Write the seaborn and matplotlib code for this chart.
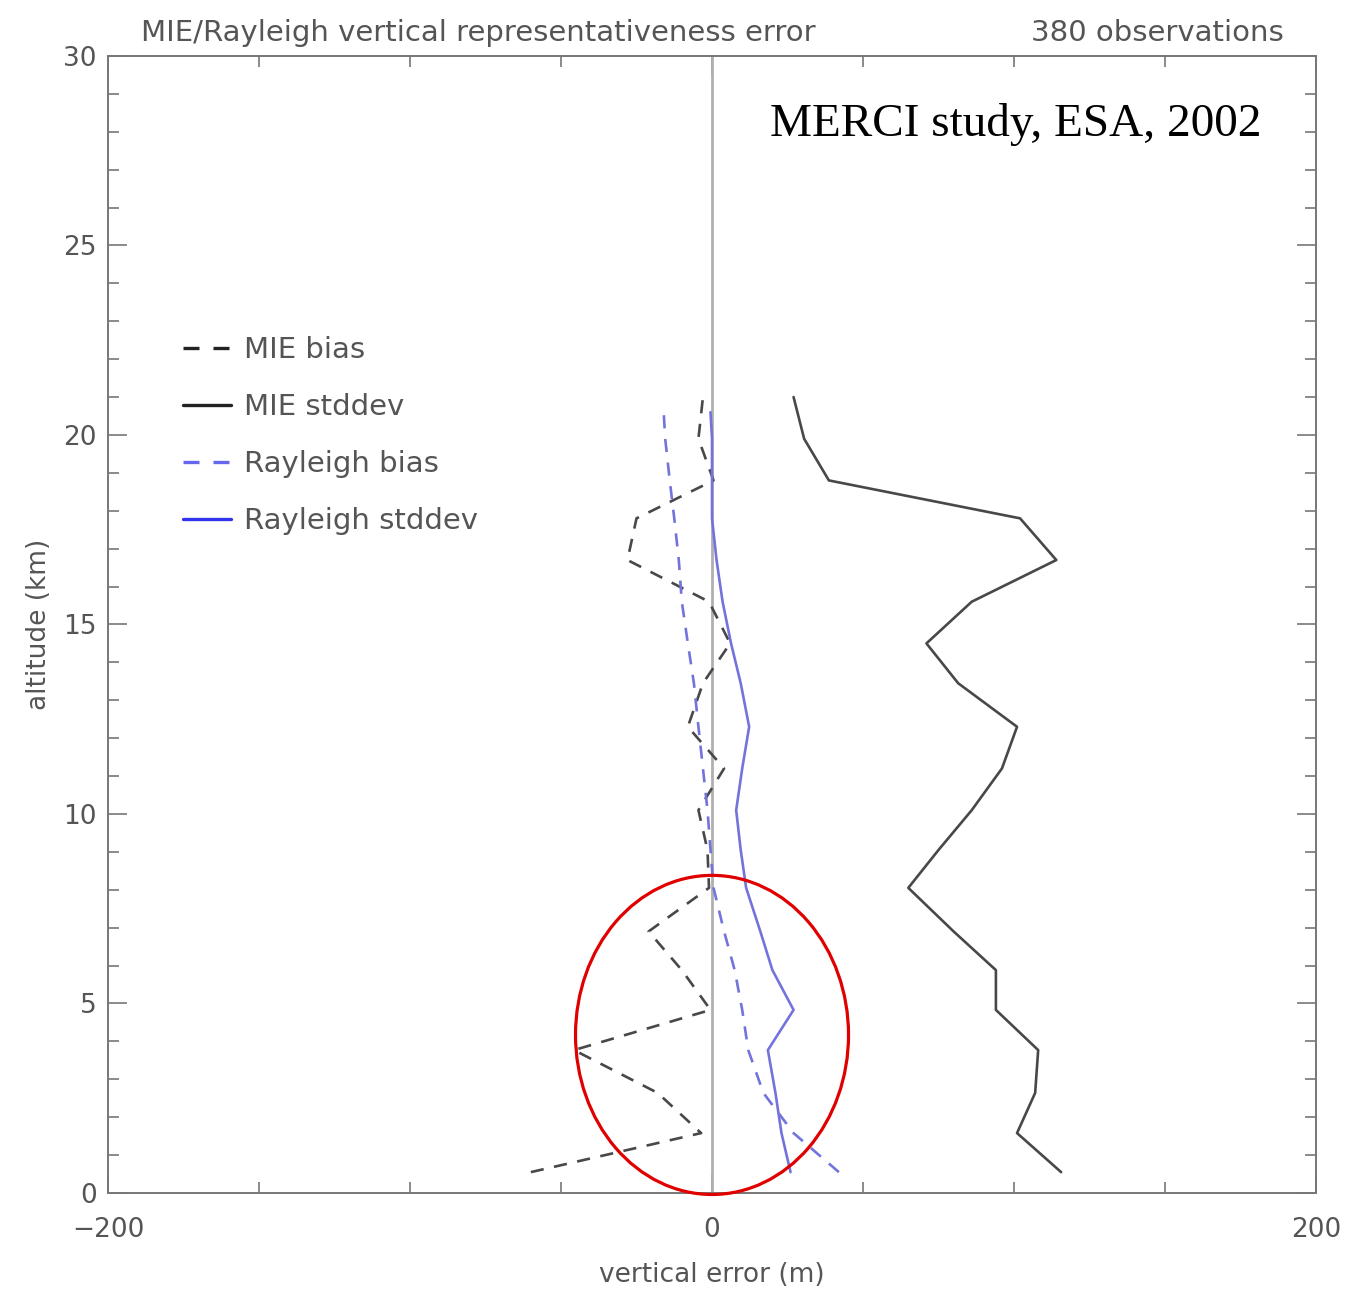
import matplotlib
matplotlib.use("Agg")
import matplotlib.pyplot as plt
from matplotlib.patches import Ellipse
from matplotlib.ticker import MultipleLocator, FixedLocator, FuncFormatter
from matplotlib.lines import Line2D
import seaborn as sns
import pandas as pd

# ---- data ----
mie_alt = [0.55, 1.58, 2.64, 3.77, 4.83, 5.88, 6.9, 8.05, 9.05, 10.1,
           11.2, 12.3, 13.45, 14.5, 15.6, 16.7, 17.8, 18.8, 19.9, 21.0]
mie_bias = [-60, -3.6, -18, -45.7, -0.5, -10, -21, -1, -1.5, -4.5,
            4, -8, -3, 6, -1, -28, -25, 0.5, -4.5, -3]
mie_std = [115.6, 101, 107, 108, 94, 94, 80, 65, 75, 86,
           96, 101, 81.5, 71, 86, 114, 102, 38.7, 30.5, 27]
ray_alt = [0.55, 1.58, 2.64, 3.77, 4.83, 5.88, 6.9, 8.05, 9.05, 10.1,
           11.2, 12.3, 13.45, 14.5, 15.6, 16.7, 17.8, 18.8, 19.9, 20.6]
ray_bias = [42, 27, 17, 12, 10, 7.5, 4, 0.5, -0.5, -1.5,
            -3, -4.5, -6, -8, -10, -11, -12.5, -14, -15.5, -16]
ray_std = [26, 23, 21, 18.5, 27, 20, 16, 11.3, 9.5, 8,
           10, 12.3, 9.5, 6.3, 3.5, 1.5, 0, 0, 0, -0.5]

series_names = ["MIE bias", "MIE stddev", "Rayleigh bias", "Rayleigh stddev"]
title_left = "MIE/Rayleigh vertical representativeness error"
title_right = "380 observations"
note_text = "MERCI study, ESA, 2002"

sns.set_theme(style="white")
plt.rcParams["font.family"] = ["DejaVu Sans"]

fig = plt.figure(figsize=(13.57, 12.89), dpi=100)
ax = fig.add_axes([0.0796, 0.0745, 0.8902, 0.8821])

grey_txt = "#555555"
mie_col = "#484848"
ray_col = "#7373dc"
dash = (0, (5, 4))

ax.axvline(0, color="#b0b0b0", lw=2.0, zorder=1)

def draw(x, y, color, ls, label):
    df = pd.DataFrame({"err": x, "alt": y})
    sns.lineplot(data=df, x="err", y="alt", sort=False, estimator=None,
                 color=color, linestyle=ls, lw=1.9, ax=ax, label=label,
                 legend=False, zorder=3)

draw(mie_bias, mie_alt, mie_col, dash, series_names[0])
draw(mie_std, mie_alt, mie_col, "-", series_names[1])
draw(ray_bias, ray_alt, ray_col, dash, series_names[2])
draw(ray_std, ray_alt, ray_col, "-", series_names[3])

ax.set_xlim(-200, 200)
ax.set_ylim(0, 30)

for s in ax.spines.values():
    s.set_color("#777777")
    s.set_linewidth(1.4)
    s.set_visible(True)

ax.xaxis.set_major_locator(FixedLocator([-200, 0, 200]))
ax.xaxis.set_minor_locator(MultipleLocator(50))
ax.yaxis.set_major_locator(MultipleLocator(5))
ax.yaxis.set_minor_locator(MultipleLocator(1))
ax.xaxis.set_major_formatter(FuncFormatter(lambda v, p: f"{int(v)}".replace("-", "\u2212")))
ax.tick_params(which="both", direction="in", top=True, right=True,
               bottom=True, left=True, color="#777777", width=1.2,
               labelsize=19, labelcolor=grey_txt)
ax.tick_params(which="major", length=14)
ax.tick_params(which="minor", length=8)
ax.tick_params(axis="x", which="both", pad=17)
ax.tick_params(axis="y", which="both", pad=8)

ax.set_xlabel("vertical error (m)", fontsize=19, color=grey_txt, labelpad=14)
ax.set_ylabel("altitude (km)", fontsize=19, color=grey_txt, labelpad=8)
ax.grid(False)

ax.text(0.027, 1.008, title_left, transform=ax.transAxes, ha="left",
        va="bottom", fontsize=21, color=grey_txt)
ax.text(0.973, 1.008, title_right, transform=ax.transAxes, ha="right",
        va="bottom", fontsize=21, color=grey_txt)
ax.text(0.955, 0.94, note_text, transform=ax.transAxes, ha="right",
        va="center", fontsize=34, color="black", family="Liberation Serif")

legend_dash = (0, (4.8, 4.2))
handles = [
    Line2D([], [], color="#222222", lw=2.4, linestyle=legend_dash),
    Line2D([], [], color="#222222", lw=2.4),
    Line2D([], [], color="#6666ee", lw=2.4, linestyle=legend_dash),
    Line2D([], [], color="#3333ee", lw=2.4),
]
leg = ax.legend(handles, series_names, loc="upper left",
                bbox_to_anchor=(0.040, 0.777), frameon=False, fontsize=21,
                handlelength=1.65, handletextpad=0.45, labelspacing=1.0)
for t in leg.get_texts():
    t.set_color(grey_txt)

ell = Ellipse((0, 4.17), width=90.4, height=8.42, fill=False,
              edgecolor="#e00000", lw=2.3, clip_on=False, zorder=5)
ax.add_patch(ell)

fig.savefig("out.png", dpi=100, facecolor="white")
